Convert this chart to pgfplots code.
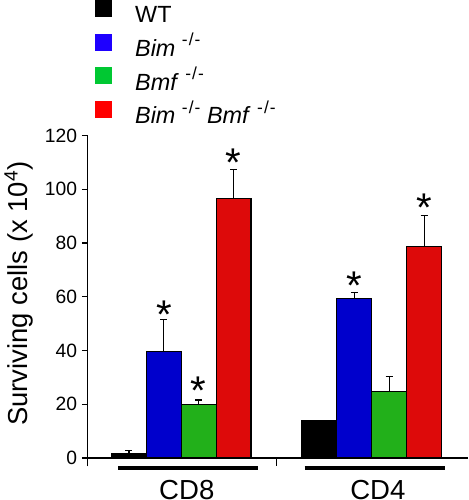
\documentclass[border=0pt]{standalone}
\usepackage{fontspec}
\setmainfont{Liberation Sans}
\usepackage{pgfplots}
\pgfplotsset{compat=1.18}
\definecolor{barblue}{RGB}{0,0,204}
\definecolor{bargreen}{RGB}{34,176,26}
\definecolor{barred}{RGB}{221,10,10}
\definecolor{legblue}{RGB}{30,0,255}
\definecolor{leggreen}{RGB}{0,200,50}
\definecolor{legred}{RGB}{255,0,0}
\newcommand{\ko}{\ \raisebox{0.45em}{\fontsize{13}{13}\selectfont -\kern0.8pt/\kern0.8pt-}}
\begin{document}
\begin{tikzpicture}
\begin{axis}[
  scale only axis, width=285pt, height=247.5pt,
  xmin=-0.494, xmax=1.507, ymin=-3.1, ymax=120,
  axis y line*=left, axis x line=none,
  ytick={0,20,40,60,80,100,120},
  yticklabels={{\Large 0},{\Large 20},{\Large 40},{\Large 60},{\Large 80},{\Large 100},{\Large 120}},
  tick label style={font=\Large},
  tick align=outside, major tick length=4pt,
  every tick/.style={black, line width=0.9pt},
  axis line style={line width=0.9pt},
  clip=false,
  ylabel={Surviving cells (x 10\textsuperscript{4})},
  ylabel style={at={(axis description cs:-0.179,0.522)}, anchor=center, font=\fontsize{20.5}{20.5}\selectfont},
  legend style={at={(axis description cs:0.021,1.409)}, anchor=north west, draw=none, fill=none,
    inner sep=0pt, outer sep=0pt, row sep=4.2pt, column sep=17.5pt,
    font=\fontsize{17.5}{17.5}\selectfont,
    nodes={inner sep=0pt, text height=13pt, text depth=4pt}},
  legend cell align=left,
  legend image code/.code={\fill[#1] (0pt,0.3pt) rectangle (12pt,12.3pt);},
]
\addlegendimage{black}
\addlegendentry{WT}
\addlegendimage{legblue}
\addlegendentry{\textit{Bim}\ko}
\addlegendimage{leggreen}
\addlegendentry{\textit{Bmf}\ko}
\addlegendimage{legred}
\addlegendentry{\textit{Bim}\ko\ \textit{Bmf}\ko}

\addplot[ybar, bar width=0.183, bar shift=-0.2745, fill=black, draw=black, line width=0.8pt, forget plot]
  table[x=x, y=y] {
x y
0 1.86
1 13.9
};
\addplot[ybar, bar width=0.183, bar shift=-0.0915, fill=barblue, draw=black, line width=0.8pt, forget plot]
  table[x=x, y=y] {
x y
0 39.5
1 59.5
};
\addplot[ybar, bar width=0.183, bar shift=0.0915, fill=bargreen, draw=black, line width=0.8pt, forget plot]
  table[x=x, y=y] {
x y
0 19.9
1 24.9
};
\addplot[ybar, bar width=0.183, bar shift=0.2745, fill=barred, draw=black, line width=0.8pt, forget plot]
  table[x=x, y=y] {
x y
0 96.6
1 78.6
};
% error bars (upper only), at the bar centres
\addplot[draw=none, mark=none, forget plot,
  error bars/.cd, y dir=plus, y explicit,
  error bar style={line width=0.8pt, black, solid},
  error mark options={rotate=90, line width=0.8pt, mark size=2.6pt, black}]
  table[x=x, y=y, y error=e] {
x y e
-0.2745 1.86 0.9
-0.0915 39.5 12.1
0.0915 19.9 1.7
0.2745 96.6 10.6
0.9085 59.5 2.2
1.0915 24.9 5.6
1.2745 78.6 11.6
};
\addplot[draw=none, mark=none, forget plot, nodes near coords={*},
  every node near coord/.style={anchor=north, inner sep=0pt, font=\fontsize{30}{30}\selectfont}]
  coordinates {(-0.0915,58.4) (0.0915,30.1) (0.2745,115.0) (0.9085,69.3) (1.2745,98.2)};

\draw[line width=0.9pt] (axis cs:-0.494,0) -- (axis cs:1.507,0);
\draw[line width=0.9pt] (axis cs:0.5,0) -- (axis cs:0.5,-3.1);
\draw[line width=3pt] (axis cs:-0.3295,-3.84) -- (axis cs:0.405,-3.84);
\draw[line width=3pt] (axis cs:0.647,-3.84) -- (axis cs:1.3845,-3.84);
\node[anchor=base, inner sep=0pt, font=\fontsize{20.6}{20.6}\selectfont] at (axis cs:0.029,-15.5) {CD8};
\node[anchor=base, inner sep=0pt, font=\fontsize{20.6}{20.6}\selectfont] at (axis cs:1.032,-15.5) {CD4};
\path (axis cs:0,-15.5) ++(0,-1.5pt);
\end{axis}
\end{tikzpicture}
\end{document}
